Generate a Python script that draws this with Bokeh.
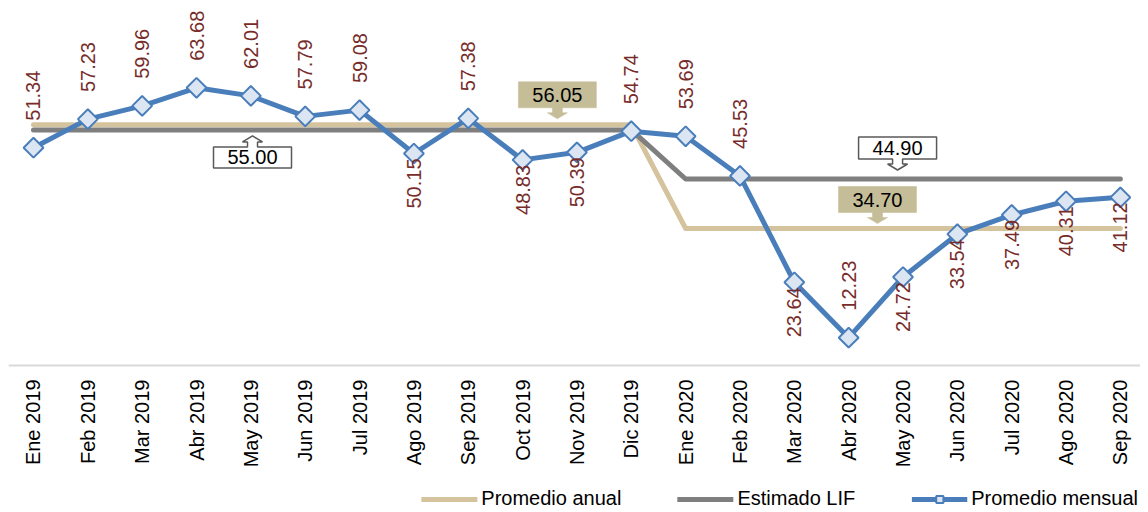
import math
from bokeh.plotting import figure
from bokeh.models import Range1d, FixedTicker, Legend, LegendItem
from bokeh.core.properties import value
from bokeh.embed import file_html
from bokeh.resources import INLINE

# ---------------- data ----------------
months = ["Ene 2019", "Feb 2019", "Mar 2019", "Abr 2019", "May 2019", "Jun 2019",
          "Jul 2019", "Ago 2019", "Sep 2019", "Oct 2019", "Nov 2019", "Dic 2019",
          "Ene 2020", "Feb 2020", "Mar 2020", "Abr 2020", "May 2020", "Jun 2020",
          "Jul 2020", "Ago 2020", "Sep 2020"]
promedio_mensual = [51.34, 57.23, 59.96, 63.68, 62.01, 57.79, 59.08, 50.15, 57.38,
                    48.83, 50.39, 54.74, 53.69, 45.53, 23.64, 12.23, 24.72, 33.54,
                    37.49, 40.31, 41.12]
promedio_anual_2019 = 56.05
promedio_anual_2020 = 34.70
estimado_lif_2019 = 55.00
estimado_lif_2020 = 44.90
months_in_2019 = 12
# data labels drawn below their point (the others are above)
labels_below = ["Ago 2019", "Oct 2019", "Nov 2019", "Mar 2020", "May 2020",
                "Jun 2020", "Jul 2020", "Ago 2020", "Sep 2020"]

n = len(months)
xs = list(range(n))
promedio_anual = [promedio_anual_2019] * months_in_2019 + [promedio_anual_2020] * (n - months_in_2019)
estimado_lif = [estimado_lif_2019] * months_in_2019 + [estimado_lif_2020] * (n - months_in_2019)

# ---------------- styles ----------------
FONT = "Liberation Sans"
TAN = "#D5C39E"
TAN_BOX = "#C4BD97"
GRAY = "#7F7F7F"
BLUE = "#4A7EBB"
MARK_FILL = "#DCE6F2"
LABEL_RED = "#772C2A"
BOX_BORDER = "#595959"

FRAME_W, FRAME_H = 1132, 504
X0, X1 = -0.46, 20.37
Y1 = 80.0
AXIS_Y = 6.5                      # value at which the category axis line sits
PXY = 357 / (Y1 - AXIS_Y)         # pixels per value unit
Y0 = Y1 - FRAME_H / PXY           # frame extends below the axis for labels and legend
PXX = FRAME_W / (X1 - X0)

p = figure(frame_width=FRAME_W, frame_height=FRAME_H, output_backend="svg", toolbar_location=None,
           x_range=Range1d(X0, X1), y_range=Range1d(Y0, Y1),
           y_axis_location=None, min_border_left=8, min_border_right=0,
           min_border_top=8, min_border_bottom=0)
p.outline_line_color = None
p.xgrid.visible = False
p.ygrid.visible = False
p.background_fill_color = "white"
p.border_fill_color = "white"

ax = p.xaxis[0]
ax.fixed_location = AXIS_Y
ax.ticker = FixedTicker(ticks=xs)
ax.major_label_overrides = {i: m for i, m in enumerate(months)}
ax.major_label_orientation = math.pi / 2
ax.major_label_text_font = FONT
ax.major_label_text_font_size = "20px"
ax.major_label_text_color = "black"
ax.major_label_standoff = 14
ax.major_tick_out = 0
ax.major_tick_in = 0
ax.minor_tick_out = 0
ax.minor_tick_in = 0
ax.axis_line_color = "#D9D9D9"
ax.axis_line_width = 2
ax.major_tick_line_color = None
ax.minor_tick_line_color = None

# ---------------- series ----------------
r_anual = p.line(xs, promedio_anual, line_color=TAN, line_width=5, line_cap="round", line_join="round")
r_lif = p.line(xs, estimado_lif, line_color=GRAY, line_width=5, line_cap="round", line_join="round")
r_men = p.line(xs, promedio_mensual, line_color=BLUE, line_width=5, line_join="round")
r_mk = p.scatter(xs, promedio_mensual, marker="square", angle=math.pi / 4, size=14,
                 fill_color=MARK_FILL, line_color=BLUE, line_width=2)

# ---------------- data labels ----------------
up_x, up_y, up_t, dn_x, dn_y, dn_t = [], [], [], [], [], []
for i, (m, v) in enumerate(zip(months, promedio_mensual)):
    if m in labels_below:
        dn_x.append(i); dn_y.append(v - 5 / PXY); dn_t.append(f"{v:.2f}")
    else:
        up_x.append(i); up_y.append(v + 27 / PXY); up_t.append(f"{v:.2f}")
p.text(up_x, up_y, text=up_t, angle=math.pi / 2, text_align="left", text_baseline="middle",
       text_font=value(FONT), text_font_size="20px", text_color=LABEL_RED)
p.text(dn_x, dn_y, text=dn_t, angle=math.pi / 2, text_align="right", text_baseline="middle",
       text_font=value(FONT), text_font_size="20px", text_color=LABEL_RED)

# ---------------- callouts ----------------
def callout(xc, val, direction, gap, fill, border, bw=78, bh=24, stem=5, head=6, sw=5, hw=10):
    # offsets in screen px (positive = up), measured from the series line
    s = 1 if direction == "down" else -1   # box above the line when arrow points down
    tip = s * gap
    b = tip + s * (head + stem)   # box edge near arrow
    t = b + s * bh                # far box edge
    neck = tip + s * head
    pts = [(-bw / 2, t), (bw / 2, t), (bw / 2, b), (sw, b), (sw, neck), (hw, neck),
           (0, tip), (-hw, neck), (-sw, neck), (-sw, b), (-bw / 2, b)]
    px_ = [xc + dx / PXX for dx, dy in pts]
    py_ = [val + dy / PXY for dx, dy in pts]
    p.patch(px_, py_, fill_color=fill, line_color=border if border else fill,
            line_width=1.5 if border else 0.5)
    p.text([xc], [val + (b + t) / 2 / PXY], text=[f"{val:.2f}"], text_align="center",
           text_baseline="middle", text_font=value(FONT), text_font_size="20px", text_color="black")

callout(9.64, promedio_anual_2019, "down", 6, TAN_BOX, None, bh=26)
callout(4.03, estimado_lif_2019, "up", 6, "white", BOX_BORDER, bh=21)
callout(15.90, estimado_lif_2020, "down", 9, "white", BOX_BORDER, bh=22)
callout(15.53, promedio_anual_2020, "down", 5, TAN_BOX, None, bh=26)

# ---------------- legend ----------------
legend = Legend(items=[LegendItem(label="Promedio anual", renderers=[r_anual]),
                       LegendItem(label="Estimado LIF", renderers=[r_lif]),
                       LegendItem(label="Promedio mensual", renderers=[r_men, r_mk])],
                orientation="horizontal", location="bottom_right",
                glyph_width=56, glyph_height=18, label_standoff=4, spacing=56,
                padding=0, margin=2, border_line_alpha=0, background_fill_alpha=0,
                label_height=18, label_text_line_height=1.0,
                label_text_font=FONT, label_text_font_size="20px", label_text_color="black")
p.add_layout(legend)

open("out.html", "w").write(file_html(p, INLINE))
